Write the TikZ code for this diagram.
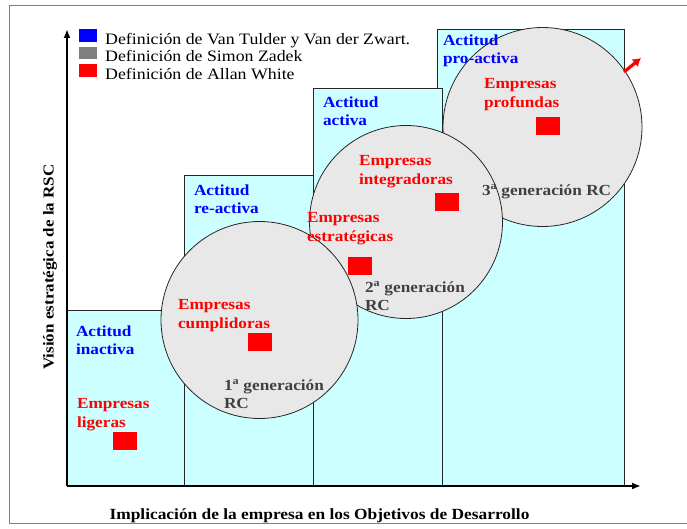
\documentclass[tikz,border=0pt]{standalone}
\usepackage{fontspec}
\setmainfont[FakeStretch=1.12]{Liberation Serif}
\usetikzlibrary{arrows.meta}
\definecolor{cyanbox}{RGB}{204,255,255}
\definecolor{circgray}{RGB}{232,232,232}
\definecolor{lblblue}{RGB}{0,0,255}
\definecolor{lblred}{RGB}{255,0,0}
\definecolor{lblgray}{RGB}{64,64,64}
\definecolor{framegray}{RGB}{128,128,128}
\tikzset{
  attbox/.style={draw=black!85, line width=0.9pt, fill=cyanbox},
  gencirc/.style={draw=black!85, line width=0.8pt, fill=circgray},
  txt/.style={anchor=north west, inner sep=0pt, outer sep=0pt, yshift=10.5pt, align=left,
    font=\fontsize{15.4}{18.5}\selectfont\bfseries},
  attlbl/.style={txt, text=lblblue},
  emplbl/.style={txt, text=lblred},
  genlbl/.style={txt, text=lblgray},
  redsq/.style={fill=lblred, draw=none},
  legsq/.style={draw=none},
  axis/.style={line width=2.2pt, -{Latex[length=9pt,width=7pt]}},
}
\begin{document}
\begin{tikzpicture}[x=1pt,y=-1pt]
\useasboundingbox (0,0) rectangle (687,529);
% outer frame
\draw[framegray, line width=1pt] (9,6) -- (690,6);
\draw[framegray, line width=1pt] (9,6) -- (9,523) -- (690,523);
% attitude boxes
\path[attbox] (437,29) rectangle (624,486);
\path[attbox] (313,88) rectangle (442,486);
\path[attbox] (184,175) rectangle (313,486);
\path[attbox] (67,310) rectangle (184,486);
% generation circles
\path[gencirc] (542.5,127) circle[radius=99.5];
\path[gencirc] (406,222) circle[radius=96.5];
\path[gencirc] (259.5,320) circle[radius=98.5];
% axes
\coordinate (origin) at (67,486);
\coordinate (ytip) at (67,29);
\coordinate (xtip) at (641,486);
\draw[axis] (origin) -- (ytip);
\draw[axis] (origin) -- (xtip);
% red arrow
\coordinate (ra1) at (624,72);
\coordinate (ra2) at (641,58);
\draw[lblred, line width=3.2pt, -{Latex[length=8pt,width=10pt]}] (ra1) -- (ra2);
% legend
\path[legsq, fill=lblblue] (79,29) rectangle (97,42);
\path[legsq, fill=framegray] (79,47) rectangle (97,59);
\path[legsq, fill=lblred] (79,64) rectangle (97,77);
\node[anchor=north west, inner sep=0pt, yshift=10.9pt, align=left,
  font=\fontsize{15.9}{17.5}\selectfont] (legend) at (105,44)
  {Definición de Van Tulder y Van der Zwart.\\Definición de Simon Zadek\\Definición de Allan White};
% attitude labels
\node[attlbl] (a1) at (76,336) {Actitud\\inactiva};
\node[attlbl] (a2) at (194,195) {Actitud\\re-activa};
\node[attlbl] (a3) at (323,107) {Actitud\\activa};
\node[attlbl] (a4) at (443,45) {Actitud\\pro-activa};
% company labels
\node[emplbl] (e1) at (77,409) {Empresas\\ligeras};
\node[emplbl] (e2) at (178,310) {Empresas\\cumplidoras};
\node[emplbl] (e3) at (307,223) {Empresas\\estratégicas};
\node[emplbl] (e4) at (359,166) {Empresas\\integradoras};
\node[emplbl] (e5) at (484,89) {Empresas\\profundas};
% red squares
\path[redsq] (113,432) rectangle (137,450);
\path[redsq] (248,333) rectangle (272,351);
\path[redsq] (348,257) rectangle (372,275);
\path[redsq] (435,193) rectangle (459,211);
\path[redsq] (536,117) rectangle (560,135);
% generation labels
\node[genlbl] (g1) at (224,390) {1\textsuperscript{a} generación\\RC};
\node[genlbl] (g2) at (365,292) {2\textsuperscript{a} generación\\RC};
\node[genlbl] (g3) at (482,195) {3\textsuperscript{a} generación RC};
% axis labels
\node[rotate=90, inner sep=0pt, font=\fontsize{15.2}{18}\selectfont\bfseries] (ylab) at (50,267) {Visión estratégica de la RSC};
\node[anchor=base, inner sep=0pt, font=\fontsize{15.5}{18}\selectfont\bfseries] (xlab) at (319.5,519) {Implicación de la empresa en los Objetivos de Desarrollo};
\end{tikzpicture}
\end{document}
